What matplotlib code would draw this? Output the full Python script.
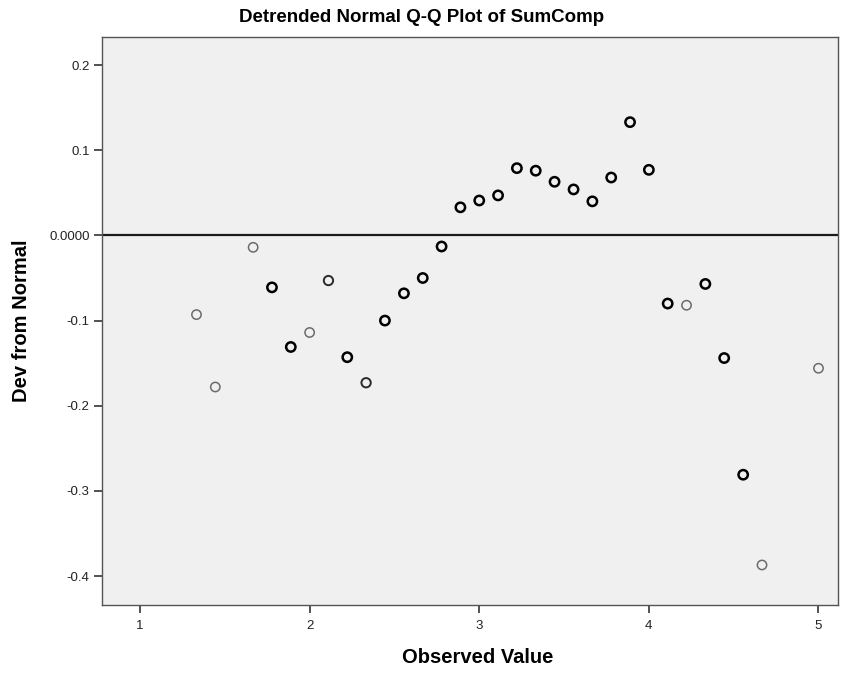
import numpy as np
import matplotlib.pyplot as plt

plt.rcParams['font.family'] = ['Liberation Sans', 'DejaVu Sans']

observed = [1.333, 1.444, 1.667, 1.778, 1.889, 2.0, 2.111, 2.222, 2.333, 2.444,
            2.556, 2.667, 2.778, 2.889, 3.0, 3.111, 3.222, 3.333, 3.444, 3.556,
            3.667, 3.778, 3.889, 4.0, 4.111, 4.222, 4.333, 4.444, 4.556, 4.667, 5.0]
dev = [-0.093, -0.178, -0.014, -0.061, -0.131, -0.114, -0.053, -0.143, -0.173, -0.100,
       -0.068, -0.050, -0.013, 0.033, 0.041, 0.047, 0.079, 0.076, 0.063, 0.054,
       0.040, 0.068, 0.133, 0.077, -0.080, -0.082, -0.057, -0.144, -0.281, -0.387, -0.156]
# 0 = thin grey outline, 1 = medium, 2 = bold (more cases at that value)
weight = [0, 0, 0, 2, 2, 0, 1, 2, 1, 2,
          2, 2, 2, 2, 2, 2, 2, 2, 2, 2,
          2, 2, 2, 2, 2, 0, 2, 2, 2, 0, 0]

y_ticks = [0.2, 0.1, 0.0, -0.1, -0.2, -0.3, -0.4]
y_tick_labels = ["0.2", "0.1", "0.0000", "-0.1", "-0.2", "-0.3", "-0.4"]
x_ticks = [1, 2, 3, 4, 5]

fig = plt.figure(figsize=(8.5, 6.75), dpi=100)
ax = fig.add_axes([102 / 850, 1 - 605 / 675, (838 - 102) / 850, (605 - 37) / 675])
ax.set_facecolor("#f0f0f0")

styles = {0: ("#6b6b6b", 1.1), 1: ("#2a2a2a", 1.4), 2: ("#000000", 1.8)}
for w in [0, 1, 2]:
    xs = [x for x, k in zip(observed, weight) if k == w]
    ys = [y for y, k in zip(dev, weight) if k == w]
    col, lw = styles[w]
    ax.scatter(xs, ys, s=45, facecolors="none", edgecolors=col, linewidths=lw, zorder=3)

ax.axhline(0, color="#1a1a1a", lw=1.6, zorder=2)

ax.set_xlim(0.776, 5.115)
ax.set_ylim(-0.434, 0.233)
ax.set_xticks(x_ticks)
ax.set_xticklabels([str(t) for t in x_ticks])
ax.set_yticks(y_ticks)
ax.set_yticklabels(y_tick_labels)
ax.tick_params(direction="out", length=6, width=1.2, color="#333333",
               labelsize=9.5, labelcolor="#222222", pad=3)
ax.tick_params(axis="x", pad=5)

for sp in ax.spines.values():
    sp.set_color("#555555")
    sp.set_linewidth(1.0)

fig.text(422 / 850, 1 - 18 / 675, "Detrended Normal Q-Q Plot of SumComp",
         fontsize=13.5, fontweight="bold", ha="center", va="center")
ax.set_xlabel("Observed Value", fontsize=14.5, fontweight="bold")
ax.set_ylabel("Dev from Normal", fontsize=14.5, fontweight="bold")
ax.xaxis.set_label_coords((478 - 102) / 736, -0.093)
ax.yaxis.set_label_coords(-0.109, 0.5)
ax.xaxis.label.set_va("center")
ax.yaxis.label.set_va("center")

fig.savefig("out.png", dpi=100)
